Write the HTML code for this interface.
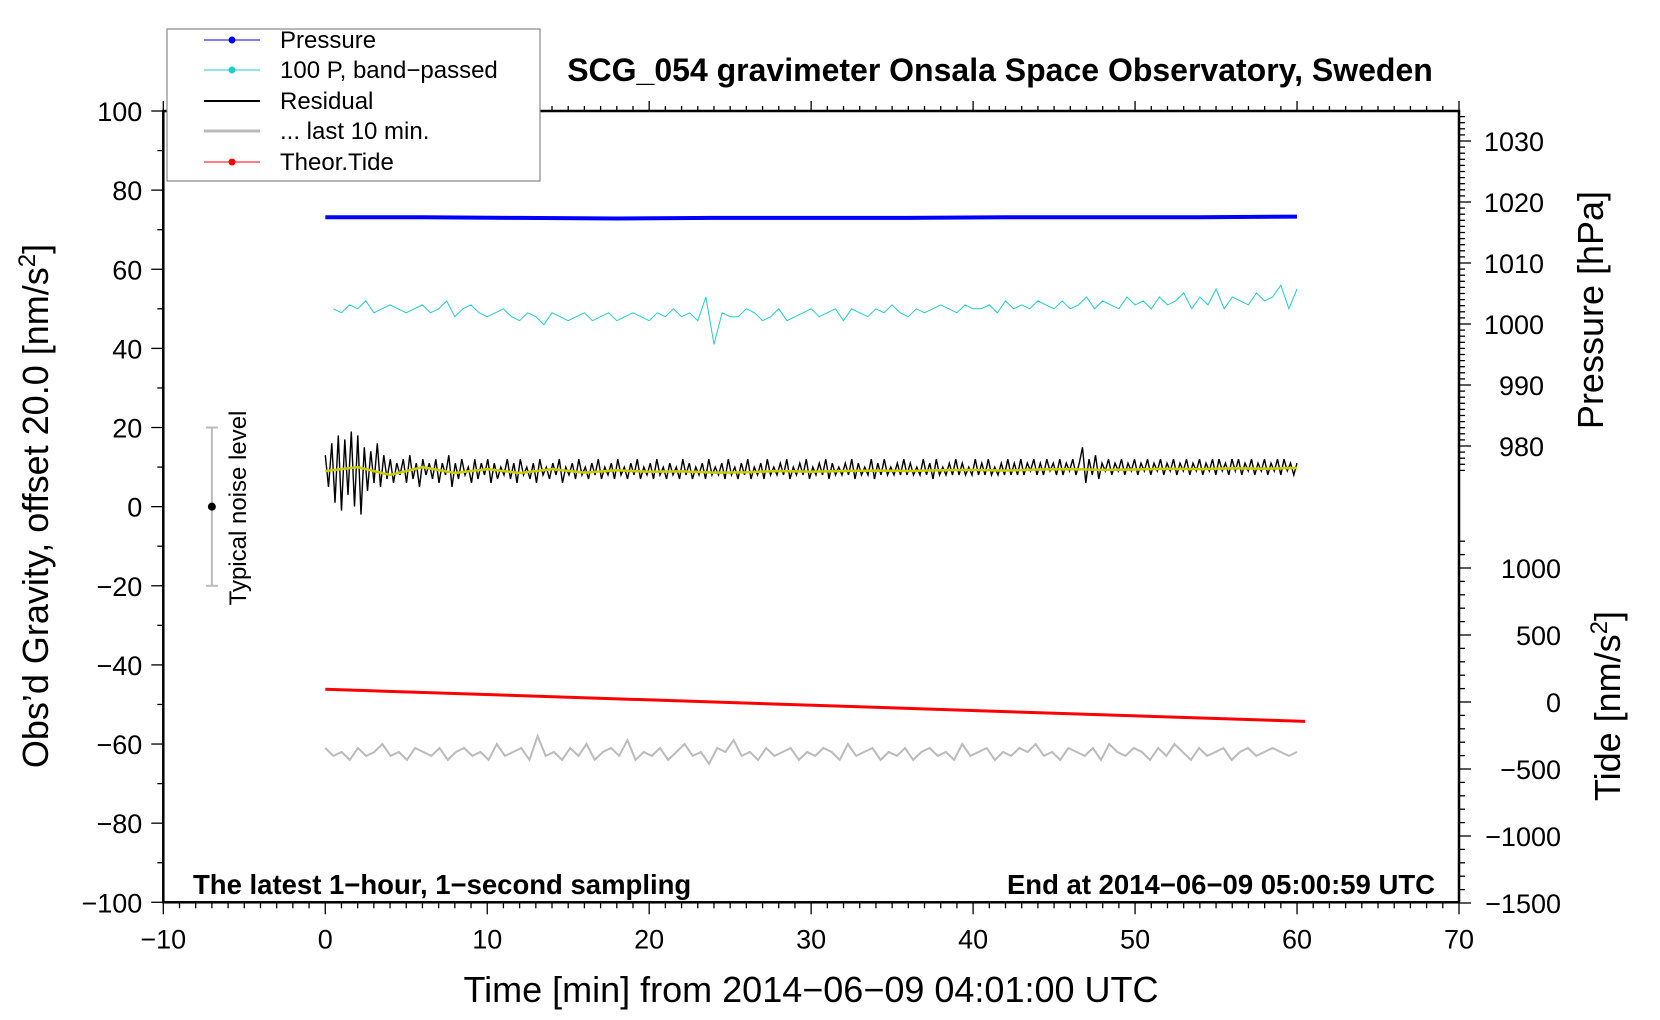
<!DOCTYPE html>
<html><head><meta charset="utf-8"><style>
html,body{margin:0;padding:0;background:#fff;}
svg{display:block;font-family:"Liberation Sans",sans-serif;}
</style></head><body>
<svg id="chart" width="1660" height="1020" viewBox="0 0 1660 1020">
<g id="marks"></g>
<g id="axes"></g>
<text x="1000" y="81" font-size="32" font-weight="bold" text-anchor="middle">SCG_054 gravimeter Onsala Space Observatory, Sweden</text>
<text x="193" y="894" font-size="27.5" font-weight="bold">The latest 1−hour, 1−second sampling</text>
<text x="1435" y="894" font-size="27.5" font-weight="bold" text-anchor="end">End at 2014−06−09 05:00:59 UTC</text>
<text x="811" y="1002" font-size="36" text-anchor="middle">Time [min] from 2014−06−09 04:01:00 UTC</text>
<text transform="translate(48,506) rotate(-90)" font-size="36" text-anchor="middle">Obs’d Gravity, offset 20.0 [nm/s<tspan dy="-13" font-size="24">2</tspan><tspan dy="13">]</tspan></text>
<text transform="translate(1603,310) rotate(-90)" font-size="36" text-anchor="middle">Pressure [hPa]</text>
<text transform="translate(1620,706) rotate(-90)" font-size="36" text-anchor="middle">Tide [nm/s<tspan dy="-13" font-size="24">2</tspan><tspan dy="13">]</tspan></text>
<text transform="translate(246,508) rotate(-90)" font-size="24" text-anchor="middle">Typical noise level</text>
<g>
<rect x="167" y="29" width="373" height="152" fill="#fff" stroke="#888" stroke-width="1.2"/>
<g><line x1="204" y1="40" x2="260" y2="40" stroke="#00f" stroke-width="1"/><circle cx="232" cy="40" r="3.5" fill="#00f"/><text x="280" y="48" font-size="24">Pressure</text></g>
<g><line x1="204" y1="70" x2="260" y2="70" stroke="#2cc" stroke-width="1"/><circle cx="232" cy="70" r="3.5" fill="#2cc"/><text x="280" y="78" font-size="24">100 P, band−passed</text></g>
<g><line x1="204" y1="101" x2="260" y2="101" stroke="#000" stroke-width="2"/><text x="280" y="109" font-size="24">Residual</text></g>
<g><line x1="204" y1="131" x2="260" y2="131" stroke="#bbb" stroke-width="3"/><text x="280" y="139" font-size="24">... last 10 min.</text></g>
<g><line x1="204" y1="162" x2="260" y2="162" stroke="#f00" stroke-width="1"/><circle cx="232" cy="162" r="3.5" fill="#f00"/><text x="280" y="170" font-size="24">Theor.Tide</text></g>
</g>
</svg>
<script>
const xTicks=[-10,0,10,20,30,40,50,60,70];
const yTicks=[100,80,60,40,20,0,-20,-40,-60,-80,-100];
const pTicks=[980,990,1000,1010,1020,1030];
const tideTicks=[-1500,-1000,-500,0,500,1000];
const pressureVals=[1017.5,1017.5,1017.4,1017.3,1017.4,1017.4,1017.4,1017.5,1017.5,1017.5,1017.6];
const bandVals=[50,49,51,50,52,49,50,51,50,49,50,51,49,50,52,48,50,51,49,48,
49,50,48,47,49,48,46,49,48,47,48,49,47,48,49,47,48,49,48,47,
49,48,50,48,49,47,53,41,49,48,48,50,49,47,48,50,47,48,49,50,
48,49,50,47,50,49,48,50,49,51,49,48,50,49,50,51,50,49,51,50,
50,51,49,52,50,51,50,52,51,50,52,50,51,53,50,52,51,50,53,51,
52,50,53,51,52,54,50,53,51,55,50,53,52,51,54,52,53,56,50,55];
const residualVals=[13,5,16,1,18,-1,17,3,19,0,18,-2,15,4,14,6,16,5,13,7,
12,6,11,8,12,6,13,7,11,5,12,8,11,7,12,6,11,8,13,5,
11,7,12,8,10,6,12,7,11,8,12,6,11,7,10,8,12,7,11,6,
12,8,10,7,11,6,12,8,10,7,11,8,12,6,10,8,11,7,12,8,
10,7,11,8,12,7,10,8,11,7,12,8,10,7,11,8,12,7,10,8,
11,7,12,8,10,7,11,8,10,7,12,8,11,7,10,8,11,7,12,8,
10,8,11,7,12,8,10,7,11,8,12,7,10,8,11,7,12,8,10,8,
11,8,12,7,10,8,11,8,12,7,10,8,11,8,12,7,11,8,10,8,
11,8,12,7,11,8,10,8,12,7,11,8,12,8,10,8,11,8,12,8,
11,8,10,8,12,8,11,7,12,8,10,8,11,8,12,8,11,8,10,8,
12,8,11,8,12,8,10,8,11,8,12,8,11,8,12,8,11,9,12,8,
11,8,12,9,11,8,12,8,11,9,12,8,11,15,6,12,8,13,7,11,
9,12,8,11,9,12,8,11,9,12,8,11,9,12,8,11,9,12,8,11,
9,12,8,11,9,12,8,11,9,12,8,11,9,12,8,12,9,11,8,12,
9,12,8,11,9,12,8,11,9,12,8,11,9,12,8,12,9,11,8,11];
const smoothVals=[9,10,8,10,8.5,9.5,8.5,9.5,8.6,9.2,8.8,8.9,8.6,8.7,9,8.8,9,9.1,9,9.2,9.3,9.1,9.4,9.5,9.3,9.4,9.6,9.5,9.7,9.6,9.8];
const lastVals=[-61,-63,-62,-64,-61,-63,-62,-60,-63,-62,-64,-61,-62,-63,-61,-64,-62,-61,-63,-62,
-64,-60,-63,-62,-61,-64,-58,-63,-62,-64,-61,-63,-60,-64,-62,-61,-63,-59,-64,-62,
-63,-61,-64,-62,-60,-63,-62,-65,-61,-62,-59,-63,-62,-64,-61,-63,-62,-61,-64,-62,
-63,-61,-62,-64,-60,-63,-62,-61,-64,-62,-63,-61,-64,-62,-61,-63,-62,-64,-60,-63,
-62,-61,-64,-62,-63,-61,-62,-60,-63,-62,-64,-61,-62,-63,-61,-64,-60,-62,-63,-61,
-62,-64,-61,-63,-60,-62,-64,-61,-63,-62,-61,-64,-62,-61,-63,-62,-61,-62,-63,-62];
const tideTimes=[0,60.5];
const tideVals=[95,-145];
const noiseBar=[-7,-20,20];

const X0=163.3,X1=1459,Y0=111,Y1=902.3;
const sx=v=>X0+(v+10)*(X1-X0)/80;
const sy=v=>Y1-(v+100)*(Y1-Y0)/200;
const sp=v=>141+(1030-v)*6.1;
const st=v=>903-(v+1500)*67/500;
const NS='http://www.w3.org/2000/svg';
const marks=document.getElementById('marks'),axes=document.getElementById('axes');
function mk(tag,attrs,parent){const e=document.createElementNS(NS,tag);for(const k in attrs)e.setAttribute(k,attrs[k]);parent.appendChild(e);return e;}
function series(vals,fy,t0,t1){return vals.map((v,i)=>sx(t0+i*(t1-t0)/(vals.length-1)).toFixed(1)+','+fy(v).toFixed(1)).join(' ');}

let e;
e=mk('polyline',{points:series(lastVals,sy,0,60),fill:'none',stroke:'#bbb','stroke-width':2},marks);


e=mk('polyline',{points:tideTimes.map((t,i)=>sx(t)+','+st(tideVals[i])).join(' '),fill:'none',stroke:'#f00','stroke-width':3},marks);


e=mk('polyline',{points:series(pressureVals,sp,0,60),fill:'none',stroke:'#00f','stroke-width':4},marks);


e=mk('polyline',{points:series(bandVals,sy,0.5,60),fill:'none',stroke:'#2cc','stroke-width':1},marks);


e=mk('polyline',{points:series(residualVals,sy,0,60),fill:'none',stroke:'#000','stroke-width':1.4},marks);


e=mk('polyline',{points:series(smoothVals,sy,0,60),fill:'none',stroke:'#cc0','stroke-width':2.5},marks);


e=mk('line',{x1:sx(noiseBar[0]),x2:sx(noiseBar[0]),y1:sy(noiseBar[1]),y2:sy(noiseBar[2]),stroke:'#bbb','stroke-width':2},marks);


[noiseBar[1],noiseBar[2]].forEach(v=>{mk('line',{x1:sx(noiseBar[0])-6,x2:sx(noiseBar[0])+6,y1:sy(v),y2:sy(v),stroke:'#bbb','stroke-width':2},marks);});
e=mk('circle',{cx:sx(noiseBar[0]),cy:sy(0),r:4,fill:'#000'},marks);



e=mk('rect',{x:X0,y:Y0,width:X1-X0,height:Y1-Y0,fill:'none',stroke:'#000','stroke-width':2.5},axes);


for(let v=-10;v<=70;v++){const L=v%10===0?12:6;
mk('line',{x1:sx(v),x2:sx(v),y1:Y1,y2:Y1+L,stroke:'#000','stroke-width':1.3},axes);
mk('line',{x1:sx(v),x2:sx(v),y1:Y0,y2:Y0-(v%10===0?10:5),stroke:'#000','stroke-width':1.3},axes);}
xTicks.forEach(v=>{e=mk('text',{x:sx(v),y:Y1+46,'font-size':27,'text-anchor':'middle'},axes);e.textContent=String(v).replace('-','−');

});
for(let v=-100;v<=100;v+=10){mk('line',{x1:X0,x2:X0-(v%20===0?12:6),y1:sy(v),y2:sy(v),stroke:'#000','stroke-width':1.3},axes);}
yTicks.forEach(v=>{e=mk('text',{x:X0-21,y:sy(v)+10,'font-size':27,'text-anchor':'end'},axes);e.textContent=String(v).replace('-','−');

});
for(let v=975;v<=1035;v++){const y=sp(v);if(y<Y0||y>475)continue;mk('line',{x1:X1,x2:X1+(v%10===0?12:6),y1:y,y2:y,stroke:'#000','stroke-width':1.3},axes);}
pTicks.forEach(v=>{e=mk('text',{x:X1+85,y:sp(v)+10,'font-size':27,'text-anchor':'end'},axes);e.textContent=String(v);

});
for(let v=-1500;v<=1200;v+=100){mk('line',{x1:X1,x2:X1+(v%500===0?12:6),y1:st(v),y2:st(v),stroke:'#000','stroke-width':1.3},axes);}
tideTicks.forEach(v=>{e=mk('text',{x:X1+102,y:st(v)+10,'font-size':27,'text-anchor':'end'},axes);e.textContent=String(v).replace('-','−');

});
</script>
</body></html>
